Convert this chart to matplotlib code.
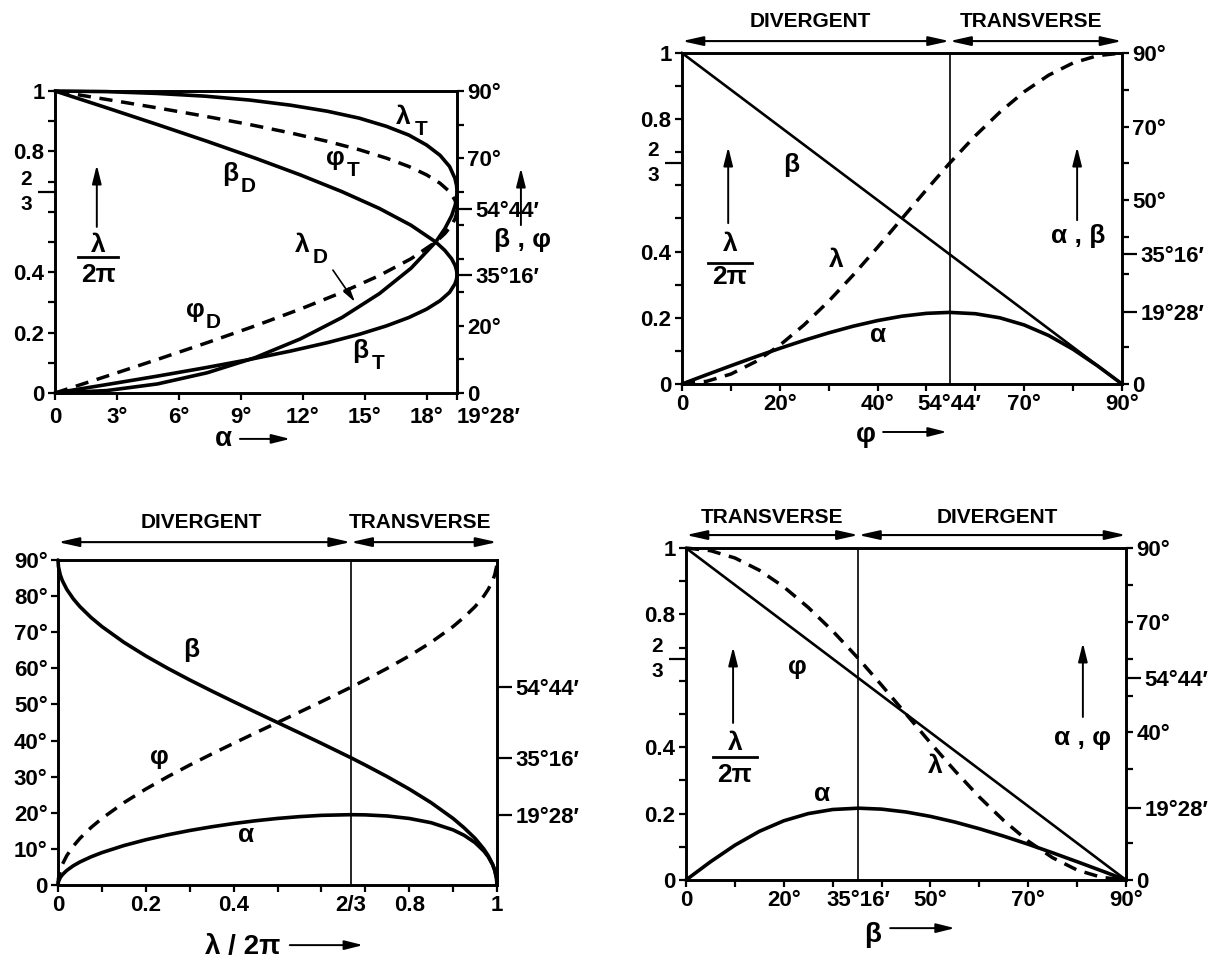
import matplotlib
matplotlib.use('Agg')
import matplotlib.pyplot as plt

plt.rcParams['font.family'] = ['Liberation Sans', 'DejaVu Sans']
plt.rcParams['font.weight'] = 'bold'

W, H = 1230, 963

# ---- top left: both branches (D = divergent, T = transverse) against alpha ----
tl_alpha_D = [0, 2.50, 4.96, 7.37, 9.69, 11.88, 13.90, 15.71, 17.24, 18.44, 18.88, 19.21, 19.38, 19.45, 19.47]
tl_lam_D = [0, 0.008, 0.030, 0.067, 0.117, 0.179, 0.250, 0.329, 0.413, 0.500, 0.544, 0.587, 0.621, 0.646, 0.667]
tl_phi_D = [0, 5, 10, 15, 20, 25, 30, 35, 40, 45, 47.5, 50, 52, 53.5, 54.73]
tl_beta_D = [90, 85, 80, 75, 70, 65, 60, 55, 50, 45, 42.5, 40, 38, 36.5, 35.27]

tl_alpha_T = [19.47, 19.45, 19.37, 19.11, 18.65, 18.00, 17.14, 16.05, 14.74, 13.19, 11.41, 9.43, 7.25, 4.93, 2.49, 0]
tl_lam_T = [0.667, 0.687, 0.711, 0.750, 0.787, 0.821, 0.854, 0.883, 0.910, 0.933, 0.953, 0.970, 0.983, 0.992, 0.998, 1.0]
tl_phi_T = [54.73, 56, 57.5, 60, 62.5, 65, 67.5, 70, 72.5, 75, 77.5, 80, 82.5, 85, 87.5, 90]
tl_beta_T = [35.27, 34, 32.5, 30, 27.5, 25, 22.5, 20, 17.5, 15, 12.5, 10, 7.5, 5, 2.5, 0]

# ---- top right: against phi ----
tr_phi = [0, 5, 10, 15, 20, 25, 30, 35, 40, 45, 50, 54.73, 60, 65, 70, 75, 80, 85, 90]
tr_lam = [0, 0.008, 0.030, 0.067, 0.117, 0.179, 0.250, 0.329, 0.413, 0.500, 0.587, 0.667, 0.750, 0.821, 0.883, 0.933, 0.970, 0.992, 1.0]
tr_alpha = [0, 2.50, 4.96, 7.37, 9.69, 11.88, 13.90, 15.71, 17.24, 18.44, 19.21, 19.47, 19.11, 18.00, 16.05, 13.19, 9.43, 4.93, 0]
tr_beta_phi = [0, 90]
tr_beta = [90, 0]

# ---- bottom left: against lambda / 2pi ----
bl_lam = [0, 0.001, 0.005, 0.01, 0.02, 0.035, 0.05, 0.075, 0.1, 0.15, 0.2, 0.25, 0.3, 0.35, 0.4, 0.45,
          0.5, 0.55, 0.6, 0.667, 0.7, 0.75, 0.8, 0.85, 0.9, 0.925, 0.95, 0.97, 0.98, 0.99, 0.995, 0.999, 1]
bl_phi = [0, 1.81, 4.05, 5.74, 8.13, 10.78, 12.92, 15.89, 18.43, 22.79, 26.57, 30, 33.21, 36.27, 39.23, 42.13,
          45, 47.87, 50.77, 54.74, 56.79, 60, 63.43, 67.21, 71.57, 74.16, 77.08, 80.03, 81.87, 84.26, 85.95, 88.19, 90]
bl_beta = [90, 88.19, 85.95, 84.26, 81.87, 79.22, 77.08, 74.11, 71.57, 67.21, 63.43, 60, 56.79, 53.73, 50.77, 47.87,
           45, 42.13, 39.23, 35.26, 33.21, 30, 26.57, 22.79, 18.43, 15.84, 12.92, 9.97, 8.13, 5.74, 4.05, 1.81, 0]
bl_alpha = [0, 0.91, 2.02, 2.86, 4.04, 5.34, 6.38, 7.79, 8.97, 10.92, 12.53, 13.90, 15.09, 16.12, 17.02, 17.79,
            18.43, 18.93, 19.29, 19.47, 19.42, 19.11, 18.43, 17.25, 15.26, 13.77, 11.73, 9.40, 7.82, 5.63, 4.01, 1.81, 0]

# ---- bottom right: against beta ----
br_beta = [0, 5, 10, 15, 20, 25, 30, 35.27, 40, 45, 50, 55, 60, 65, 70, 75, 80, 85, 90]
br_lam = [1.0, 0.992, 0.970, 0.933, 0.883, 0.821, 0.750, 0.667, 0.587, 0.500, 0.413, 0.329, 0.250, 0.179, 0.117, 0.067, 0.030, 0.008, 0]
br_alpha = [0, 4.93, 9.43, 13.19, 16.05, 18.00, 19.11, 19.47, 19.21, 18.44, 17.24, 15.71, 13.90, 11.88, 9.69, 7.37, 4.96, 2.50, 0]
br_phi_beta = [0, 90]
br_phi = [90, 0]

LAM_TICKS = [0, 0.1, 0.2, 0.3, 0.4, 0.5, 0.6, 0.7, 0.8, 0.9, 1.0]
LAM_LABELS = ['0', '', '0.2', '', '0.4', '', '', '', '0.8', '', '1']
DEG_TICKS = [0, 10, 20, 30, 40, 50, 60, 70, 80, 90]

SOLID = dict(color='black', lw=2.6, solid_capstyle='round', solid_joinstyle='round', clip_on=False)
THIN = dict(color='black', lw=1.9, clip_on=False)
DASH = dict(color='black', lw=2.5, dashes=(3.8, 2.5), clip_on=False)
HEAD = '-|>,head_length=0.8,head_width=0.2'
GREEK = 19
TICK = 16

fig = plt.figure(figsize=(W / 100, H / 100), dpi=100)


def add_panel(x0, y0, x1, y1):
    return fig.add_axes([x0 / W, 1 - y1 / H, (x1 - x0) / W, (y1 - y0) / H])


def finish(ax):
    for s in ax.spines.values():
        s.set_linewidth(1.9)
    ax.tick_params(which='both', direction='out', width=1.6, labelsize=TICK, pad=2.5)
    ax.tick_params(which='major', length=5)


def lam_axis(ax):
    ax.set_ylim(0, 1)
    ax.set_yticks(LAM_TICKS, labels=LAM_LABELS)
    ax.set_yticks([2 / 3], labels=[''], minor=True)
    finish(ax)
    ax.tick_params(axis='y', which='minor', length=12)
    for s, dy in (('2', 9), ('3', -9)):
        ax.annotate(s, xy=(0, 2 / 3), xycoords=('axes fraction', 'data'), xytext=(-21, dy),
                    textcoords='offset points', ha='center', va='center', fontsize=15)


def angle_axis(ax, major_labels, special, special_labels, major=DEG_TICKS):
    ax.set_ylim(0, 90)
    ax.set_yticks(major, labels=major_labels)
    ax.set_yticks(special, labels=special_labels, minor=True)
    finish(ax)
    ax.tick_params(axis='y', which='minor', length=11)


def greek(ax, x, y, s, **kw):
    ax.text(x, y, s, fontsize=GREEK, ha='center', va='center', **kw)


def sub_label(ax, x, y, main, sub):
    greek(ax, x, y, main)
    ax.annotate(sub, xy=(x, y), xytext=(13, -9), textcoords='offset points',
                fontsize=15, ha='center', va='center')


def arrow(ax, xy_from, xy_to, style=HEAD, lw=1.4, scale=14, coords='axes fraction'):
    ax.annotate('', xy=xy_to, xytext=xy_from, xycoords=coords, textcoords=coords,
                arrowprops=dict(arrowstyle=style, color='black', lw=lw, mutation_scale=scale,
                                shrinkA=0, shrinkB=0), annotation_clip=False)


def fraction_label(ax, x, y_top, y_bar, y_bot, half):
    greek(ax, x, y_top, 'λ', transform=ax.transAxes)
    ax.plot([x - half, x + half], [y_bar, y_bar], transform=ax.transAxes, color='black', lw=2.0, clip_on=False)
    greek(ax, x, y_bot, '2π', transform=ax.transAxes)


def regions(ax, split, xmax, y_arrow, y_text, left_text, right_text, x_left, x_right):
    both = '<|-|>,head_length=0.9,head_width=0.2'
    tr = ax.get_xaxis_transform()
    for a, b in ((0, split), (split, xmax)):
        ax.annotate('', xy=(b, y_arrow), xytext=(a, y_arrow), xycoords=tr, textcoords=tr,
                    arrowprops=dict(arrowstyle=both, color='black', lw=1.5, mutation_scale=14,
                                    shrinkA=0, shrinkB=0), annotation_clip=False)
    ax.text(x_left, y_text, left_text, transform=tr, fontsize=15, ha='center', va='center')
    ax.text(x_right, y_text, right_text, transform=tr, fontsize=15, ha='center', va='center')


# ================= top left =================
ax = add_panel(55, 91, 457, 393)
ax.set_xlim(0, 19.47)
ax.plot(tl_alpha_T, tl_lam_T, **SOLID)
ax.plot(tl_alpha_D, tl_lam_D, **SOLID)
ax.set_xticks([0, 3, 6, 9, 12, 15, 18, 19.47],
              labels=['0', '3°', '6°', '9°', '12°', '15°', '18°', '19°28′'])
lam_axis(ax)
ax.tick_params(axis='x', pad=5)
ax.get_xticklabels()[-1].set_ha('left')
ax2 = ax.twinx()
ax2.plot(tl_alpha_D, tl_beta_D, **SOLID)
ax2.plot(tl_alpha_T, tl_beta_T, **SOLID)
ax2.plot(tl_alpha_T, tl_phi_T, **DASH)
ax2.plot(tl_alpha_D, tl_phi_D, **DASH)
angle_axis(ax2, ['0', '', '20°', '', '', '', '', '70°', '', '90°'], [35.27, 54.73], ['35°16′', '54°44′'])

sub_label(ax, 16.85, 0.914, 'λ', 'T')
sub_label(ax, 13.56, 0.778, 'φ', 'T')
sub_label(ax, 8.5, 0.725, 'β', 'D')
sub_label(ax, 11.95, 0.49, 'λ', 'D')
sub_label(ax, 6.78, 0.275, 'φ', 'D')
sub_label(ax, 14.77, 0.139, 'β', 'T')
arrow(ax, (13.46, 0.407), (14.53, 0.301), style='-|>,head_length=0.7,head_width=0.18',
      lw=1.2, scale=12, coords='data')
fraction_label(ax, 0.107, 0.49, 0.45, 0.391, 0.05)
arrow(ax, (0.104, 0.55), (0.104, 0.755))
greek(ax, 1.164, 0.507, 'β , φ', transform=ax.transAxes)
arrow(ax, (1.159, 0.556), (1.159, 0.745))
ax.text(0.418, -0.152, 'α', transform=ax.transAxes, fontsize=20, ha='center', va='center')
arrow(ax, (0.46, -0.152), (0.585, -0.152))

# ================= top right =================
ax = add_panel(682, 53, 1122, 384)
ax.set_xlim(0, 90)
ax.plot(tr_phi, tr_lam, **DASH)
ax.axvline(54.73, color='black', lw=1.2)
ax.set_xticks(DEG_TICKS, labels=['0', '', '20°', '', '40°', '', '', '70°', '', '90°'])
ax.set_xticks([54.73], labels=['54°44′'], minor=True)
lam_axis(ax)
ax.tick_params(axis='x', which='minor', length=0, pad=7.5)
ax2 = ax.twinx()
ax2.plot(tr_beta_phi, tr_beta, **THIN)
ax2.plot(tr_phi, tr_alpha, **SOLID)
angle_axis(ax2, ['0', '', '', '', '50°', '', '70°', '', '90°'], [19.47, 35.27], ['19°28′', '35°16′'],
           major=[0, 10, 30, 40, 50, 60, 70, 80, 90])

greek(ax, 22.3, 0.662, 'β')
greek(ax, 31.5, 0.374, 'λ')
greek(ax, 40.1, 0.149, 'α')
fraction_label(ax, 0.109, 0.423, 0.366, 0.323, 0.05)
arrow(ax, (0.105, 0.486), (0.105, 0.716))
greek(ax, 0.9, 0.447, 'α , β', transform=ax.transAxes)
arrow(ax, (0.898, 0.495), (0.898, 0.716))
ax.text(0.418, -0.154, 'φ', transform=ax.transAxes, fontsize=20, ha='center', va='center')
arrow(ax, (0.457, -0.145), (0.602, -0.145))
regions(ax, 54.73, 90, 1.036, 1.094, 'DIVERGENT', 'TRANSVERSE', 26.2, 71.4)

# ================= bottom left =================
ax = add_panel(58, 560, 497, 885)
ax.set_xlim(0, 1)
ax.set_ylim(0, 90)
ax.plot(bl_lam, bl_beta, **SOLID)
ax.plot(bl_lam, bl_alpha, **SOLID)
ax.plot(bl_lam, bl_phi, **DASH)
ax.axvline(2 / 3, color='black', lw=1.2)
ax.set_xticks(LAM_TICKS, labels=LAM_LABELS)
ax.set_xticks([2 / 3], labels=['2/3'], minor=True)
ax.set_yticks(DEG_TICKS, labels=['0', '10°', '20°', '30°', '40°', '50°', '60°', '70°', '80°', '90°'])
finish(ax)
ax.tick_params(axis='x', which='minor', length=0, pad=7.5)
ax2 = ax.twinx()
ax2.set_ylim(0, 90)
ax2.set_yticks([19.47, 35.27, 54.73], labels=['19°28′', '35°16′', '54°44′'])
finish(ax2)
ax2.tick_params(axis='y', which='major', length=11)

greek(ax, 0.303, 65.2, 'β')
greek(ax, 0.23, 35.4, 'φ')
greek(ax, 0.428, 13.8, 'α')
ax.text(0.421, -0.191, 'λ / 2π', transform=ax.transAxes, fontsize=20, ha='center', va='center')
arrow(ax, (0.528, -0.185), (0.695, -0.185))
regions(ax, 2 / 3, 1, 1.055, 1.114, 'DIVERGENT', 'TRANSVERSE', 0.326, 0.825)

# ================= bottom right =================
ax = add_panel(686, 548, 1126, 880)
ax.set_xlim(0, 90)
ax.plot(br_beta, br_lam, **DASH)
ax.axvline(35.27, color='black', lw=1.2)
ax.set_xticks(DEG_TICKS, labels=['0', '', '20°', '', '', '50°', '', '70°', '', '90°'])
ax.set_xticks([35.27], labels=['35°16′'], minor=True)
lam_axis(ax)
ax.tick_params(axis='x', which='minor', length=0, pad=7.5)
ax2 = ax.twinx()
ax2.plot(br_phi_beta, br_phi, **THIN)
ax2.plot(br_beta, br_alpha, **SOLID)
angle_axis(ax2, ['0', '', '', '40°', '', '', '70°', '', '90°'], [19.47, 54.73], ['19°28′', '54°44′'],
           major=[0, 10, 30, 40, 50, 60, 70, 80, 90])

greek(ax, 22.7, 0.643, 'φ')
greek(ax, 51.0, 0.342, 'λ')
greek(ax, 27.9, 0.259, 'α')
fraction_label(ax, 0.111, 0.413, 0.370, 0.316, 0.05)
arrow(ax, (0.107, 0.473), (0.107, 0.702))
greek(ax, 0.902, 0.428, 'α , φ', transform=ax.transAxes)
arrow(ax, (0.902, 0.491), (0.902, 0.714))
ax.text(0.425, -0.166, 'β', transform=ax.transAxes, fontsize=20, ha='center', va='center')
arrow(ax, (0.464, -0.145), (0.611, -0.145))
regions(ax, 35.27, 90, 1.039, 1.093, 'TRANSVERSE', 'DIVERGENT', 17.6, 63.6)

fig.savefig('out.png', dpi=100)
